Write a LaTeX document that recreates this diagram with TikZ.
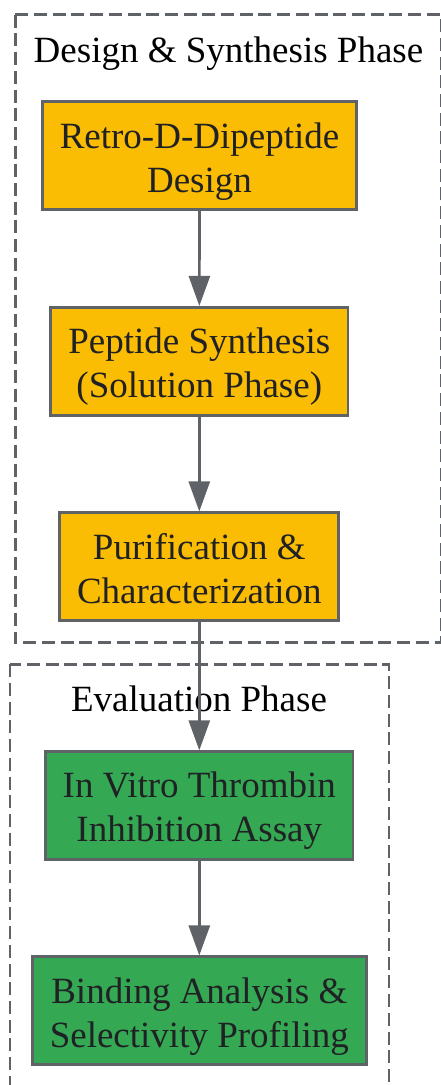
\documentclass[tikz,border=0pt]{standalone}
\usepackage{fontspec}
\setmainfont{Liberation Serif}
\usetikzlibrary{arrows.meta}
\definecolor{edgegray}{HTML}{5F6368}
\definecolor{gyellow}{HTML}{FBBC04}
\definecolor{ggreen}{HTML}{34A853}
\definecolor{txtdark}{HTML}{202124}
\tikzset{
  x=1pt, y=-1pt,
  cluster/.style={draw=edgegray, line width=2.6pt, dash pattern=on 13pt off 5.7pt},
  clustertitle/.style={anchor=base, inner sep=0pt, text=black,
    font=\fontsize{37}{44}\selectfont},
  stepbox/.style={draw=edgegray, line width=2.7pt, inner sep=0pt,
    minimum height=108pt, align=center, text=txtdark,
    text height=80pt, text depth=7.6pt,
    font=\fontsize{37}{44}\selectfont},
  ybox/.style={stepbox, fill=gyellow},
  gbox/.style={stepbox, fill=ggreen},
  flow/.style={draw=edgegray, line width=2.7pt,
    -{Triangle[length=30pt, width=21pt]}}
}
\begin{document}
\begin{tikzpicture}
\useasboundingbox (0,0) rectangle (441,1085);
\begin{scope}
\clip (0,0) rectangle (441,1085);
\draw[cluster] (15.3,14.7) rectangle (441,642.7);
\draw[cluster] (10,664.3) rectangle (389,1095);
\end{scope}
\node[clustertitle] (t1) at (228.5,62) {Design \& Synthesis Phase};
\node[clustertitle] (t2) at (199,711) {Evaluation Phase};
\node[ybox, minimum width=314pt] (n1) at (199.5,155.8) {Retro-D-Dipeptide\\Design};
\node[ybox, minimum width=297.5pt] (n2) at (199.3,361.3) {Peptide Synthesis\\(Solution Phase)};
\node[ybox, minimum width=279pt] (n3) at (199.3,566.8) {Purification \&\\Characterization};
\node[gbox, minimum width=307.5pt] (n4) at (199.3,805.7) {In Vitro Thrombin\\Inhibition Assay};
\node[gbox, minimum width=334pt] (n5) at (199.3,1010.8) {Binding Analysis \&\\Selectivity Profiling};
\draw[flow] (n1) -- (n2);
\draw[flow] (n2) -- (n3);
\draw[flow] (n3) -- (n4);
\draw[flow] (n4) -- (n5);
\end{tikzpicture}
\end{document}
